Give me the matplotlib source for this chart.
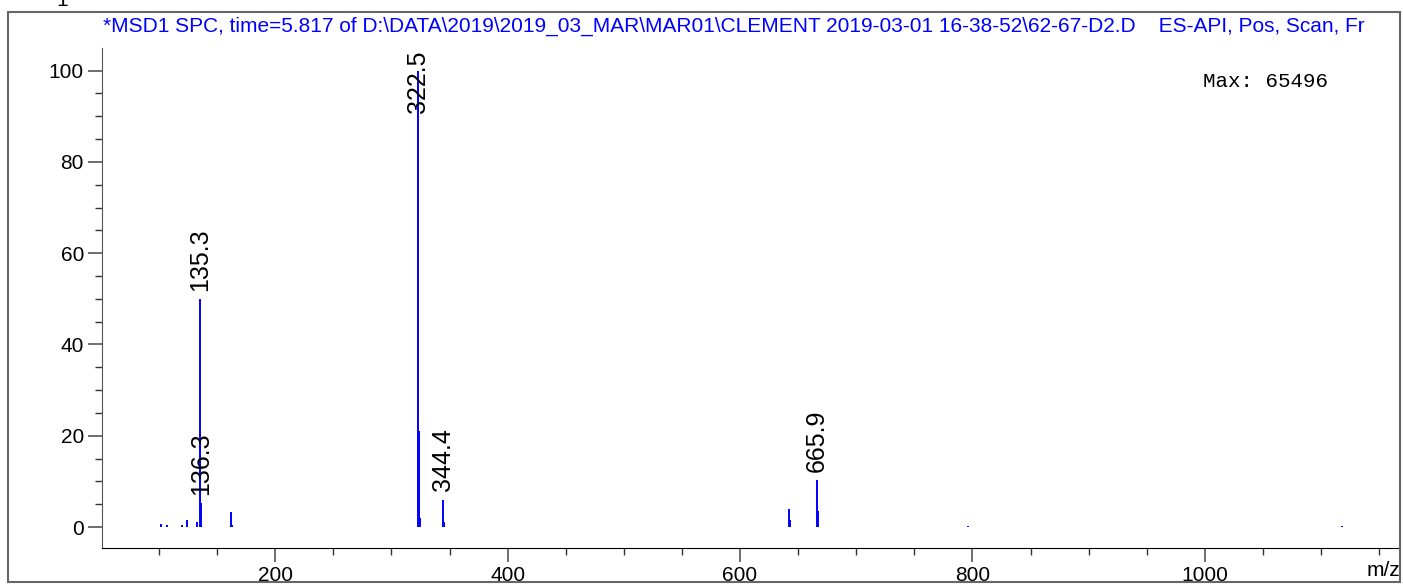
import matplotlib.pyplot as plt
from matplotlib.patches import Rectangle

plt.rcParams['font.family'] = ['Liberation Sans', 'DejaVu Sans']

# peaks (m/z, relative abundance %)
mz = [102, 107, 120, 124, 133, 135.3, 136.3, 162, 163,
      322.5, 323.5, 324.5, 344.4, 345.4,
      642, 643, 665.9, 666.9, 796, 1118]
abund = [0.6, 0.5, 0.5, 1.5, 1.0, 50, 5.2, 3.3, 0.5,
         100, 21, 2.0, 6.0, 1.0,
         4.0, 1.5, 10.3, 3.5, 0.3, 0.3]

# labelled peaks
label_mz = [135.3, 136.3, 322.5, 344.4, 665.9]
label_h = [50, 5.2, 100, 6.0, 10.3]

title = ("*MSD1 SPC, time=5.817 of D:\\DATA\\2019\\2019_03_MAR\\MAR01\\CLEMENT "
         "2019-03-01 16-38-52\\62-67-D2.D    ES-API, Pos, Scan, Fr")
max_text = "Max: 65496"

fig = plt.figure(figsize=(14.03, 5.85), dpi=100)
ax = fig.add_axes([0.0727, 0.0632, 0.9253, 0.855])

ax.vlines(mz, 0, abund, color='#0000ff', linewidth=1.4)

for x, h in zip(label_mz, label_h):
    y = min(h, 89)
    ax.annotate(f"{x:.1f}", (x, y), xytext=(0, 6), textcoords='offset points',
                rotation=90, ha='center', va='bottom', fontsize=18)

ax.set_xlim(51, 1168)
ax.set_ylim(-4.6, 105)
ax.set_xticks([200, 400, 600, 800, 1000])
ax.set_xticks(range(100, 1151, 50), minor=True)
ax.set_yticks([0, 20, 40, 60, 80, 100])
ax.set_yticks(range(0, 101, 5), minor=True)
ax.tick_params(axis='both', which='major', length=10, width=1.2, labelsize=15,
               color='#555555', pad=3)
ax.tick_params(axis='both', which='minor', length=5, width=1.0, color='#333333')

ax.spines['top'].set_visible(False)
ax.spines['right'].set_visible(False)
ax.spines['left'].set_color('#555555')
ax.spines['bottom'].set_color('black')

ax.text(1.0, -0.025, "m/z", transform=ax.transAxes, ha='right', va='top', fontsize=15)
ax.text(0.848, 0.932, max_text, transform=ax.transAxes, ha='left', va='center',
        fontsize=15, family='Liberation Mono')

fig.text(0.0735, 0.955, title, color='#0000ff', fontsize=15, ha='left', va='center')
fig.text(0.04, 1.0, "1", fontsize=15, ha='left', va='center')

fig.patches.append(Rectangle((0.006, 0.005), 0.992, 0.975, transform=fig.transFigure,
                             fill=False, edgecolor='#666666', linewidth=1.5))

fig.savefig("out.png", dpi=100)
